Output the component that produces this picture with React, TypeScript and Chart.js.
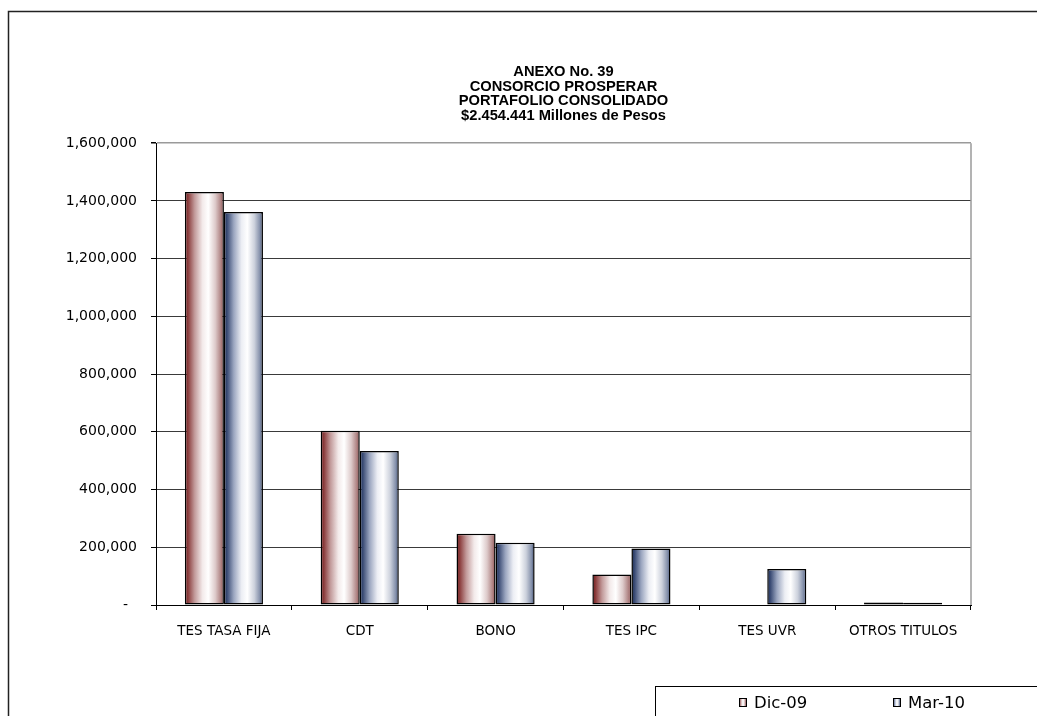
import React, { useEffect, useRef } from 'react';
import { Chart, registerables } from 'chart.js';

Chart.register(...registerables);

const categories = ['TES TASA FIJA', 'CDT', 'BONO', 'TES IPC', 'TES UVR', 'OTROS TITULOS'];
const seriesLabels = ['Dic-09', 'Mar-10'];
const dic09 = [1431000, 604000, 247000, 106000, 0, 9000];
const mar10 = [1362000, 534000, 216000, 196000, 125000, 8000];
const titleLines = ['ANEXO No. 39', 'CONSORCIO PROSPERAR', 'PORTAFOLIO CONSOLIDADO', '$2.454.441 Millones de Pesos'];
const yMin = 0;
const yMax = 1600000;
const yStep = 200000;

const TITLE_FONT = 'Arial, "Liberation Sans", sans-serif';
const FONT = '"DejaVu Sans", Arial, sans-serif';

const gradientStops: [number, string][][] = [
  [[0, '#6e1c1c'], [0.08, '#8a3b3b'], [0.25, '#c29a9a'], [0.45, '#f3eaea'], [0.6, '#ffffff'], [0.78, '#ddcaca'], [0.92, '#b08585'], [1, '#8e5050']],
  [[0, '#1b2e58'], [0.08, '#3a4b74'], [0.25, '#9aa5bf'], [0.45, '#eceef4'], [0.6, '#ffffff'], [0.78, '#ccd1dc'], [0.92, '#8591ab'], [1, '#3e4e74']],
];

function makeGradient(ctx: CanvasRenderingContext2D, left: number, width: number, idx: number) {
  const g = ctx.createLinearGradient(left, 0, left + width, 0);
  for (const [o, c] of gradientStops[idx]) g.addColorStop(o, c);
  return g;
}

const barGradientPlugin = {
  id: 'barGradient',
  beforeDatasetsDraw(chart: any) {
    const ctx = chart.ctx;
    chart.data.datasets.forEach((_: any, di: number) => {
      const meta = chart.getDatasetMeta(di);
      meta.data.forEach((el: any) => {
        const x = el.x;
        const width = el.width;
        const g = makeGradient(ctx, x - width / 2, width, di);
        el.options = Object.assign({}, el.options, { backgroundColor: g });
      });
    });
  },
};

const framePlugin = {
  id: 'frame',
  afterDraw(chart: any) {
    const ctx = chart.ctx;
    const a = chart.chartArea;
    ctx.save();
    // outer chart frame
    ctx.strokeStyle = '#222';
    ctx.lineWidth = 1.5;
    ctx.strokeRect(8.5, 11.5, 1200, 1000);
    // plot area right border
    ctx.strokeStyle = '#9a9a9a';
    ctx.lineWidth = 1.5;
    ctx.beginPath();
    ctx.moveTo(a.right, a.top);
    ctx.lineTo(a.right, a.bottom);
    ctx.stroke();
    // legend box
    ctx.fillStyle = '#fff';
    ctx.fillRect(655.5, 686.5, 420, 60);
    ctx.strokeStyle = '#000';
    ctx.lineWidth = 1;
    ctx.strokeRect(655.5, 686.5, 420, 60);
    const itemX = [739, 893];
    const cy = 702.5;
    ctx.font = `16.5px ${FONT}`;
    ctx.textBaseline = 'middle';
    ctx.textAlign = 'left';
    chart.data.datasets.forEach((ds: any, i: number) => {
      const bx = itemX[i];
      ctx.fillStyle = makeGradient(ctx, bx, 7, i);
      ctx.fillRect(bx, cy - 4.5, 7, 9);
      ctx.strokeStyle = '#000';
      ctx.strokeRect(bx + 0.5, cy - 4, 7, 8);
      ctx.fillStyle = '#000';
      ctx.fillText(ds.label, bx + 15, cy + 1);
    });
    ctx.restore();
  },
};

export default function App() {
  const ref = useRef<HTMLCanvasElement>(null);
  useEffect(() => {
    if (!ref.current) return;
    const barStyle = {
      categoryPercentage: 0.575,
      barPercentage: 1.0,
      backgroundColor: '#ffffff',
      borderColor: '#000000',
      borderWidth: 1.5,
      borderSkipped: false as const,
    };
    const chart = new Chart(ref.current, {
      type: 'bar',
      data: {
        labels: categories,
        datasets: [
          { label: seriesLabels[0], data: dic09, ...barStyle },
          { label: seriesLabels[1], data: mar10, ...barStyle },
        ],
      },
      options: {
        animation: false,
        responsive: false,
        layout: { padding: { left: 0, right: 66, top: 0, bottom: 71 } },
        plugins: {
          colors: { enabled: false },
          legend: { display: false },
          tooltip: { enabled: false },
          title: {
            display: true,
            fullSize: false,
            text: titleLines,
            color: '#000',
            font: { family: TITLE_FONT, size: 14.7, weight: 'bold', lineHeight: 0.99 },
            padding: { top: 65, bottom: 20 },
          },
        } as any,
        scales: {
          x: {
            afterFit: (s: any) => { s.height = 40; },
            grid: { drawOnChartArea: false, offset: true, tickLength: 5, color: '#000', tickColor: '#000' },
            border: { color: '#000', width: 1 },
            ticks: { color: '#000', padding: 13, font: { family: FONT, size: 13.5 }, maxRotation: 0, autoSkip: false },
          },
          y: {
            min: yMin,
            max: yMax,
            afterFit: (s: any) => { s.width = 156; },
            grid: {
              color: (c: any) => (c.tick && c.tick.value === yMax ? '#9a9a9a' : '#3a3a3a'),
              lineWidth: (c: any) => (c.tick && c.tick.value === yMax ? 1.5 : 1),
              tickLength: 5,
              tickColor: '#000',
            },
            border: { color: '#000', width: 1 },
            ticks: {
              stepSize: yStep,
              color: '#000',
              padding: 14,
              font: { family: FONT, size: 14 },
              callback: (v: any) => (Number(v) === 0 ? '-  ' : Number(v).toLocaleString('en-US')),
            },
          },
        },
      },
      plugins: [barGradientPlugin, framePlugin],
    });
    return () => chart.destroy();
  }, []);
  return (
    <div style={{ position: 'fixed', left: 0, top: 0, width: 1037, height: 716, background: '#fff' }}>
      <canvas ref={ref} width={1037} height={716} style={{ display: 'block' }} />
    </div>
  );
}
